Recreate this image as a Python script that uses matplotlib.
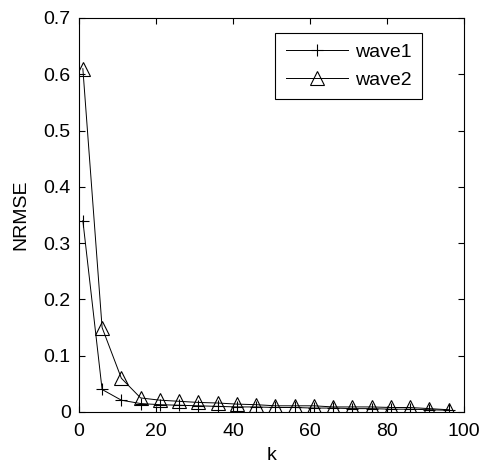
import matplotlib.pyplot as plt
import numpy as np

plt.rcParams['font.family'] = ['Liberation Sans', 'DejaVu Sans']

k = [1, 6, 11, 16, 21, 26, 31, 36, 41, 46, 51, 56, 61, 66, 71, 76, 81, 86, 91, 96]
wave1 = [0.34, 0.04, 0.021, 0.015, 0.013, 0.012, 0.011, 0.010, 0.009, 0.009,
         0.008, 0.008, 0.007, 0.007, 0.006, 0.006, 0.005, 0.005, 0.004, 0.003]
wave2 = [0.61, 0.15, 0.06, 0.025, 0.021, 0.019, 0.017, 0.016, 0.014, 0.013,
         0.011, 0.011, 0.011, 0.009, 0.009, 0.009, 0.008, 0.008, 0.006, 0.004]

fig = plt.figure(figsize=(4.84, 4.68), dpi=100)
ax = fig.add_axes([79/484, 1 - 412/468, 385/484, 394/468])

ax.plot(k, wave1, color='black', lw=0.7, marker='+', ms=8.5, mew=0.8, label='wave1')
ax.plot(k, wave2, color='black', lw=0.7, marker='^', ms=10, mew=0.8,
        mfc='none', label='wave2')

ax.set_xlim(0, 100)
ax.set_ylim(0, 0.7)
ax.set_xticks([0, 20, 40, 60, 80, 100])
ax.set_yticks(np.arange(0, 0.71, 0.1))
ax.set_yticklabels(['0', '0.1', '0.2', '0.3', '0.4', '0.5', '0.6', '0.7'])
ax.tick_params(direction='in', top=True, right=True, labelsize=14, length=4, width=0.8)
ax.tick_params(axis='x', pad=8)
ax.tick_params(axis='y', pad=6)
for s in ax.spines.values():
    s.set_linewidth(0.8)

ax.set_xlabel('k', fontsize=14, labelpad=5)
ax.set_ylabel('NRMSE', fontsize=14, labelpad=10)

leg = ax.legend(loc='upper right', bbox_to_anchor=(0.891, 0.962), fontsize=14,
                fancybox=False, edgecolor='black', framealpha=1,
                handlelength=3.2, handletextpad=0.35, borderpad=0.55,
                labelspacing=0.5, borderaxespad=0)
leg.get_frame().set_linewidth(0.8)

fig.savefig('out.png', dpi=100)
